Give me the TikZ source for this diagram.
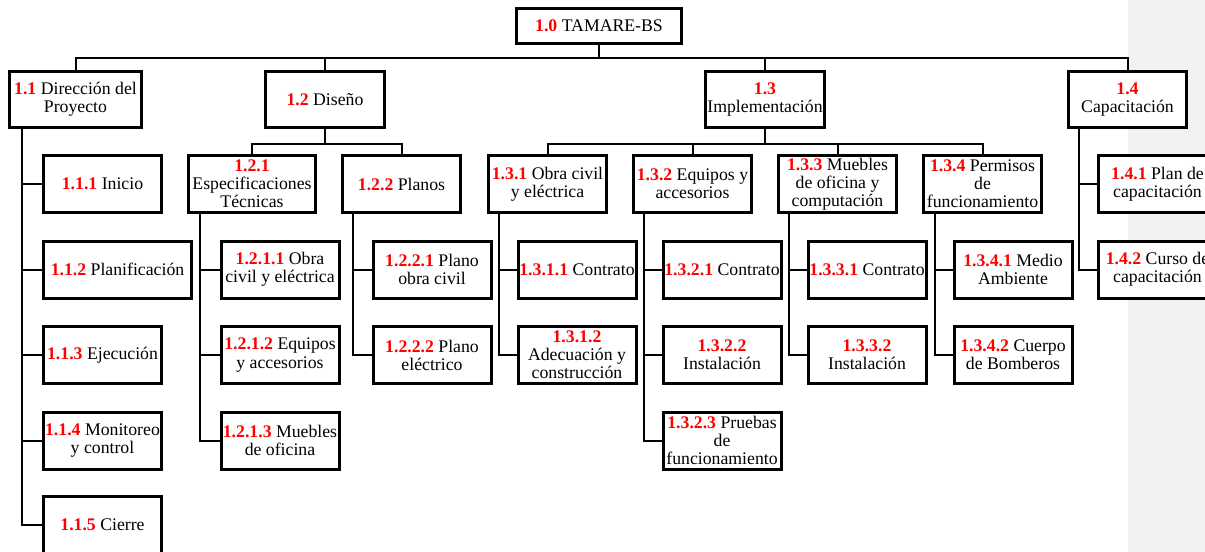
\documentclass[tikz,border=0pt]{standalone}
\usepackage{fontspec}
\setmainfont{Liberation Serif}
\definecolor{numred}{RGB}{255,0,0}
\definecolor{panelgray}{RGB}{242,242,242}
\newcommand\wbsno[1]{\textcolor{numred}{\textbf{#1}}}

\begin{document}
\begin{tikzpicture}[x=0.75pt,y=-0.75pt,
  font=\fontsize{13.3}{13.6}\selectfont,
  wbsbox/.style={draw=black,line width=2.25pt,fill=white,align=center,
    inner sep=0pt,minimum height=57*0.75pt,minimum width=118*0.75pt},
  link/.style={draw=black,line width=1.5pt}]

\useasboundingbox (0,0) rectangle (1205,552);
\clip (0,0) rectangle (1205,552);

% side panel
\fill[panelgray] (1128,0) rectangle (1205,552);

% spine positions
\coordinate (s11)  at (22,0);
\coordinate (s121) at (200,0);
\coordinate (s122) at (353,0);
\coordinate (s131) at (499,0);
\coordinate (s132) at (644,0);
\coordinate (s133) at (789,0);
\coordinate (s134) at (935,0);
\coordinate (s14)  at (1079,0);

% root
\node[wbsbox,minimum width=165*0.75pt,minimum height=35*0.75pt] (n10) at (599,26) {\wbsno{1.0} TAMARE-BS};

% level 1
\node[wbsbox,minimum height=56*0.75pt,minimum width=132*0.75pt] (n11) at (75.5,99.5) {\wbsno{1.1} Dirección del\\Proyecto};
\node[wbsbox,minimum height=56*0.75pt,minimum width=119*0.75pt] (n12) at (325,99.5) {\wbsno{1.2} Diseño};
\node[wbsbox,minimum height=56*0.75pt,minimum width=119*0.75pt] (n13) at (765,99.5) {\wbsno{1.3}\\Implementación};
\node[wbsbox,minimum height=56*0.75pt,minimum width=118*0.75pt] (n14) at (1127.5,99.5) {\wbsno{1.4}\\Capacitación};

% level 2
\node[wbsbox] (n111) at (102.5,184) {\wbsno{1.1.1} Inicio};
\node[wbsbox,minimum width=148*0.75pt] (n112) at (117.5,269.5) {\wbsno{1.1.2} Planificación};
\node[wbsbox] (n113) at (102.5,355) {\wbsno{1.1.3} Ejecución};
\node[wbsbox] (n114) at (102.5,440.5) {\wbsno{1.1.4} Monitoreo\\y control};
\node[wbsbox] (n115) at (102.5,524.5) {\wbsno{1.1.5} Cierre};

\node[wbsbox,minimum width=127*0.75pt] (n121) at (252,184) {\wbsno{1.2.1}\\Especificaciones\\Técnicas};
\node[wbsbox] (n122) at (401.5,184) {\wbsno{1.2.2} Planos};

\node[wbsbox] (n131) at (547.5,184) {\wbsno{1.3.1} Obra civil\\y eléctrica};
\node[wbsbox] (n132) at (692.5,184) {\wbsno{1.3.2} Equipos y\\accesorios};
\node[wbsbox] (n133) at (837.5,184) {\wbsno{1.3.3} Muebles\\de oficina y\\computación};
\node[wbsbox] (n134) at (982.5,184) {\wbsno{1.3.4} Permisos\\de\\funcionamiento};

\node[wbsbox] (n141) at (1157.5,184) {\wbsno{1.4.1} Plan de\\capacitación};
\node[wbsbox] (n142) at (1157.5,269.5) {\wbsno{1.4.2} Curso de\\capacitación};

% level 3
\node[wbsbox] (n1211) at (280,269.5) {\wbsno{1.2.1.1} Obra\\civil y eléctrica};
\node[wbsbox] (n1212) at (280,355) {\wbsno{1.2.1.2} Equipos\\y accesorios};
\node[wbsbox] (n1213) at (280,440.5) {\wbsno{1.2.1.3} Muebles\\de oficina};

\node[wbsbox] (n1221) at (432,269.5) {\wbsno{1.2.2.1} Plano\\obra civil};
\node[wbsbox] (n1222) at (432,355) {\wbsno{1.2.2.2} Plano\\eléctrico};

\node[wbsbox] (n1311) at (577,269.5) {\wbsno{1.3.1.1} Contrato};
\node[wbsbox] (n1312) at (577,355) {\wbsno{1.3.1.2}\\Adecuación y\\construcción};

\node[wbsbox] (n1321) at (722,269.5) {\wbsno{1.3.2.1} Contrato};
\node[wbsbox] (n1322) at (722,355) {\wbsno{1.3.2.2}\\Instalación};
\node[wbsbox] (n1323) at (722,440.5) {\wbsno{1.3.2.3} Pruebas\\de\\funcionamiento};

\node[wbsbox] (n1331) at (867,269.5) {\wbsno{1.3.3.1} Contrato};
\node[wbsbox] (n1332) at (867,355) {\wbsno{1.3.3.2}\\Instalación};

\node[wbsbox] (n1341) at (1013,269.5) {\wbsno{1.3.4.1} Medio\\Ambiente};
\node[wbsbox] (n1342) at (1013,355) {\wbsno{1.3.4.2} Cuerpo\\de Bomberos};

% root to level 1 (bus)
\foreach \c in {n11,n12,n13,n14}
  \draw[link] (n10.south) -- ++(0,13.5) -| (\c.north);

% 1.2 and 1.3 buses
\foreach \c in {n121,n122}
  \draw[link] (n12.south) -- ++(0,15.5) -| (\c.north);
\foreach \c in {n131,n132,n133,n134}
  \draw[link] (n13.south) -- ++(0,15.5) -| (\c.north);

% vertical spines with side branches
\foreach \c in {n111,n112,n113,n114,n115}
  \draw[link] (s11 |- n11.south) |- (\c.west);
\foreach \c in {n1211,n1212,n1213}
  \draw[link] (s121 |- n121.south) |- (\c.west);
\foreach \c in {n1221,n1222}
  \draw[link] (s122 |- n122.south) |- (\c.west);
\foreach \c in {n1311,n1312}
  \draw[link] (s131 |- n131.south) |- (\c.west);
\foreach \c in {n1321,n1322,n1323}
  \draw[link] (s132 |- n132.south) |- (\c.west);
\foreach \c in {n1331,n1332}
  \draw[link] (s133 |- n133.south) |- (\c.west);
\foreach \c in {n1341,n1342}
  \draw[link] (s134 |- n134.south) |- (\c.west);
\foreach \c in {n141,n142}
  \draw[link] (s14 |- n14.south) |- (\c.west);

\end{tikzpicture}
\end{document}
